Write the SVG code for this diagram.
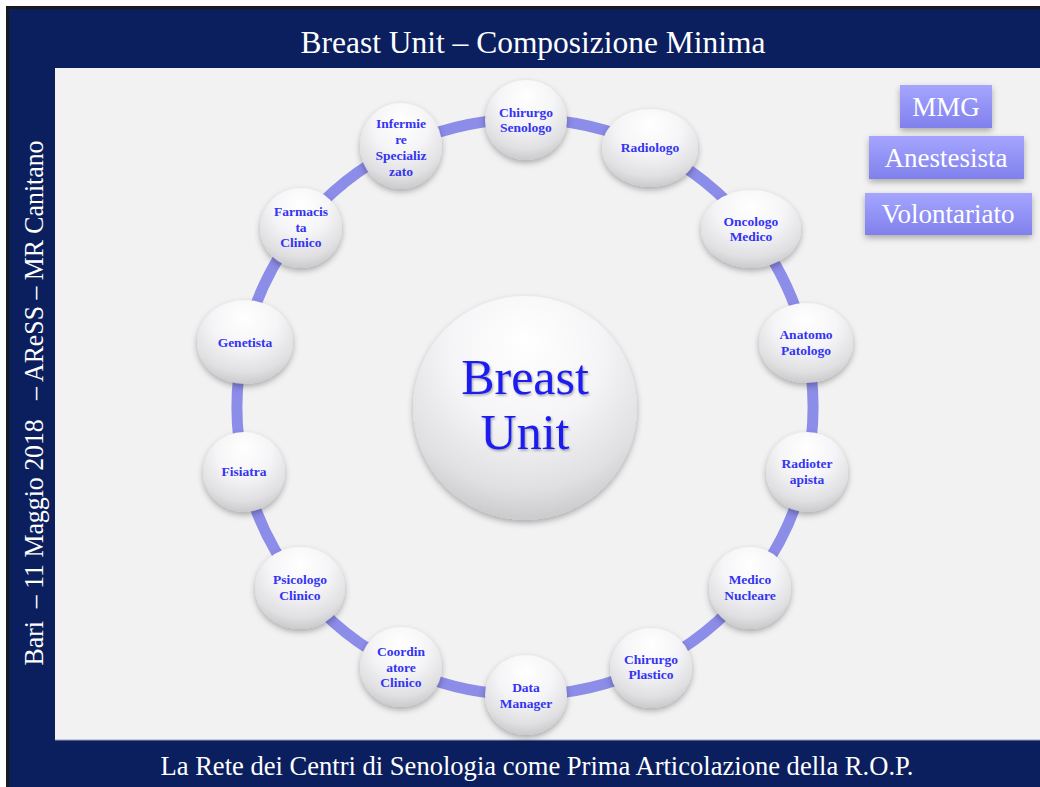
<svg xmlns="http://www.w3.org/2000/svg" width="1040" height="787" viewBox="0 0 1040 787">
  <defs>
    <radialGradient id="ball" cx="50%" cy="28%" r="75%" fx="50%" fy="20%">
      <stop offset="0" stop-color="#ffffff"/>
      <stop offset="0.45" stop-color="#f5f5f7"/>
      <stop offset="0.8" stop-color="#e0e0e2"/>
      <stop offset="1" stop-color="#c6c6c9"/>
    </radialGradient>
    <linearGradient id="box" x1="0" y1="0" x2="0" y2="1">
      <stop offset="0" stop-color="#a5a5ff"/>
      <stop offset="1" stop-color="#8080ec"/>
    </linearGradient>
    <filter id="shadow" x="-30%" y="-30%" width="160%" height="170%">
      <feDropShadow dx="0" dy="3" stdDeviation="3" flood-color="#000" flood-opacity="0.3"/>
    </filter>
    <filter id="tshadow" x="-10%" y="-10%" width="130%" height="140%">
      <feDropShadow dx="1" dy="1.5" stdDeviation="1" flood-color="#000" flood-opacity="0.35"/>
    </filter>
    <style>
      .node { fill: url(#ball); filter: url(#shadow); }
      .lbl { font-family: "Liberation Serif", "DejaVu Serif", serif; font-weight: bold; font-size: 13.5px; fill: #3434f2; text-anchor: middle; }
      .ring { fill: none; stroke: #8c8ce9; stroke-width: 11; }
      .hdr { font-family: "Liberation Serif", "DejaVu Serif", serif; fill: #ffffff; text-anchor: middle; }
      .bx { fill: url(#box); filter: url(#shadow); }
      .bxt { font-family: "Liberation Serif", "DejaVu Serif", serif; font-size: 27px; fill: #ffffff; text-anchor: middle; }
    </style>
  </defs>

  <!-- frame -->
  <rect x="0" y="0" width="1040" height="787" fill="#ffffff"/>
  <rect x="6" y="6" width="1034" height="781" fill="#1a1a1a"/>
  <rect x="9" y="9" width="1031" height="778" fill="#0b1f5e"/>
  <rect x="55" y="68" width="985" height="672" fill="#f2f2f2"/>
  <line x1="55" y1="740" x2="1040" y2="740" stroke="#9aa0b8" stroke-width="1"/>

  <text class="hdr" x="533" y="53" font-size="31" textLength="465" lengthAdjust="spacingAndGlyphs">Breast Unit – Composizione Minima</text>
  <text class="hdr" x="537" y="775" font-size="27" textLength="753" lengthAdjust="spacingAndGlyphs">La Rete dei Centri di Senologia come Prima Articolazione della R.O.P.</text>
  <text class="hdr" transform="translate(43,403) rotate(-90)" x="0" y="0" font-size="28" textLength="525" lengthAdjust="spacingAndGlyphs" xml:space="preserve">Bari  – 11 Maggio 2018   – AReSS – MR Canitano</text>

  <!-- connectors -->
  <g id="connectors" class="ring">
    <path d="M525 119 A288 288 0 0 1 649.96 147.51"/>
    <path d="M649.96 147.51 A288 288 0 0 1 750.17 227.43"/>
    <path d="M750.17 227.43 A288 288 0 0 1 805.78 342.92"/>
    <path d="M805.78 342.92 A288 288 0 0 1 805.78 471.08"/>
    <path d="M805.78 471.08 A288 288 0 0 1 750.17 586.57"/>
    <path d="M750.17 586.57 A288 288 0 0 1 649.96 666.49"/>
    <path d="M649.96 666.49 A288 288 0 0 1 525 695"/>
    <path d="M525 695 A288 288 0 0 1 400.04 666.49"/>
    <path d="M400.04 666.49 A288 288 0 0 1 299.83 586.57"/>
    <path d="M299.83 586.57 A288 288 0 0 1 244.22 471.08"/>
    <path d="M244.22 471.08 A288 288 0 0 1 244.22 342.92"/>
    <path d="M244.22 342.92 A288 288 0 0 1 299.83 227.43"/>
    <path d="M299.83 227.43 A288 288 0 0 1 400.04 147.51"/>
    <path d="M400.04 147.51 A288 288 0 0 1 525 119"/>
  </g>

  <!-- center -->
  <g id="breast-unit">
    <circle class="node" cx="525" cy="408" r="112"/>
    <g filter="url(#tshadow)" font-family="Liberation Serif, DejaVu Serif, serif" font-size="50" fill="#1c1cee" text-anchor="middle">
      <text x="525" y="394">Breast</text>
      <text x="525" y="449">Unit</text>
    </g>
  </g>

  <g id="chirurgo-senologo">
    <ellipse class="node" cx="526" cy="120" rx="41" ry="40"/>
    <text class="lbl" x="526" y="117">Chirurgo</text>
    <text class="lbl" x="526" y="132">Senologo</text>
  </g>
  <g id="radiologo">
    <ellipse class="node" cx="650" cy="148" rx="48" ry="39"/>
    <text class="lbl" x="650" y="152">Radiologo</text>
  </g>
  <g id="oncologo-medico">
    <ellipse class="node" cx="751" cy="229" rx="50" ry="39"/>
    <text class="lbl" x="751" y="226">Oncologo</text>
    <text class="lbl" x="751" y="241">Medico</text>
  </g>
  <g id="anatomo-patologo">
    <ellipse class="node" cx="806" cy="343" rx="47" ry="40"/>
    <text class="lbl" x="806" y="339">Anatomo</text>
    <text class="lbl" x="806" y="355">Patologo</text>
  </g>
  <g id="radioterapista">
    <ellipse class="node" cx="807" cy="472" rx="41" ry="40"/>
    <text class="lbl" x="807" y="468">Radioter</text>
    <text class="lbl" x="807" y="484">apista</text>
  </g>
  <g id="medico-nucleare">
    <ellipse class="node" cx="750" cy="588" rx="41" ry="41"/>
    <text class="lbl" x="750" y="584">Medico</text>
    <text class="lbl" x="750" y="600">Nucleare</text>
  </g>
  <g id="chirurgo-plastico">
    <ellipse class="node" cx="651" cy="668" rx="41" ry="40"/>
    <text class="lbl" x="651" y="664">Chirurgo</text>
    <text class="lbl" x="651" y="679">Plastico</text>
  </g>
  <g id="data-manager">
    <ellipse class="node" cx="526" cy="695" rx="41" ry="40"/>
    <text class="lbl" x="526" y="692">Data</text>
    <text class="lbl" x="526" y="708">Manager</text>
  </g>
  <g id="coordinatore-clinico">
    <ellipse class="node" cx="401" cy="667" rx="41" ry="40"/>
    <text class="lbl" x="401" y="656">Coordin</text>
    <text class="lbl" x="401" y="672">atore</text>
    <text class="lbl" x="401" y="687">Clinico</text>
  </g>
  <g id="psicologo-clinico">
    <ellipse class="node" cx="300" cy="588" rx="45" ry="41"/>
    <text class="lbl" x="300" y="584">Psicologo</text>
    <text class="lbl" x="300" y="600">Clinico</text>
  </g>
  <g id="fisiatra">
    <ellipse class="node" cx="244" cy="472" rx="41" ry="40"/>
    <text class="lbl" x="244" y="476">Fisiatra</text>
  </g>
  <g id="genetista">
    <ellipse class="node" cx="245" cy="342" rx="48" ry="42"/>
    <text class="lbl" x="245" y="347">Genetista</text>
  </g>
  <g id="farmacista-clinico">
    <ellipse class="node" cx="301" cy="228" rx="41" ry="40"/>
    <text class="lbl" x="301" y="216">Farmacis</text>
    <text class="lbl" x="301" y="232">ta</text>
    <text class="lbl" x="301" y="247">Clinico</text>
  </g>
  <g id="infermiere-specializzato">
    <ellipse class="node" cx="401" cy="146" rx="41" ry="43"/>
    <text class="lbl" x="401" y="128">Infermie</text>
    <text class="lbl" x="401" y="144">re</text>
    <text class="lbl" x="401" y="160">Specializ</text>
    <text class="lbl" x="401" y="176">zato</text>
  </g>

  <g id="mmg">
    <rect class="bx" x="900" y="85" width="92" height="43"/>
    <text class="bxt" x="946" y="116">MMG</text>
  </g>
  <g id="anestesista">
    <rect class="bx" x="869" y="136" width="155" height="43"/>
    <text class="bxt" x="946" y="167">Anestesista</text>
  </g>
  <g id="volontariato">
    <rect class="bx" x="865" y="193" width="167" height="42"/>
    <text class="bxt" x="948" y="223">Volontariato</text>
  </g>
</svg>
